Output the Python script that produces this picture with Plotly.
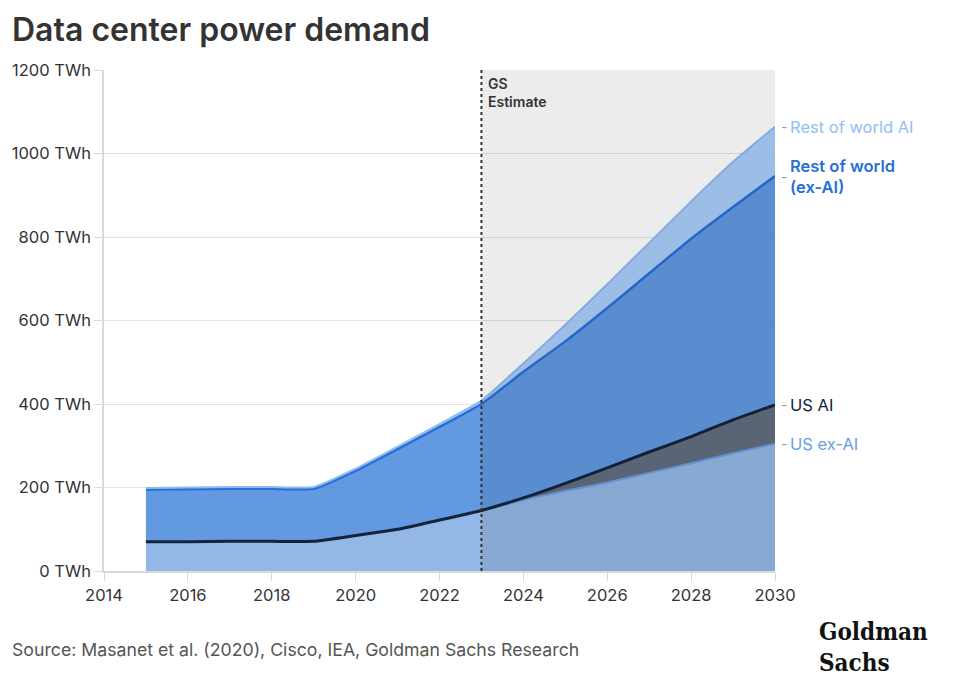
import plotly.graph_objects as go

years = list(range(2015, 2031))
us_ex_ai = [70, 70, 71, 71, 71, 85, 100, 122, 145, 170, 192, 212, 235, 258, 282, 305]
us_ai = [0, 0, 0, 0, 0, 0, 0, 0, 0, 5, 18, 35, 50, 64, 80, 93]
row_ex_ai = [125, 126, 126, 126, 126, 155, 192, 223, 255, 302, 340, 383, 428, 474, 510, 548]
row_ai = [4, 4, 4, 4, 4, 5, 6, 7, 8, 20, 40, 57, 73, 89, 108, 118]

x_ticks = list(range(2014, 2031, 2))
y_ticks = [0, 200, 400, 600, 800, 1000, 1200]
y_tick_labels = [f"{v} TWh" for v in y_ticks]

series = [
    ("US ex-AI", us_ex_ai, "rgba(128,170,226,0.85)", "#6a9ee2", 2),
    ("US AI", us_ai, "rgba(69,85,103,0.85)", "#14243c", 3),
    ("Rest of world (ex-AI)", row_ex_ai, "rgba(71,135,220,0.85)", "#2a6fd8", 2.5),
    ("Rest of world AI", row_ai, "rgba(154,197,248,0.85)", "#8cbcf0", 2),
]

FONT = "Inter, Lato, sans-serif"
OFF = 8  # page body margin offset
W, H = 960 - OFF, 688 - OFF
ml, mt = 104 - OFF, 70 - OFF
pw, ph = 671, 501
mr, mb = W - ml - pw, H - mt - ph

fig = go.Figure()
for name, vals, fillc, linec, lw in series:
    fig.add_trace(go.Scatter(
        x=years, y=vals, name=name, mode="lines", stackgroup="one",
        fillcolor=fillc, line=dict(color=linec, width=lw, shape="spline", smoothing=0.4),
        hoverinfo="skip",
    ))

tot_us_ex = us_ex_ai[-1]
tot_us = tot_us_ex + us_ai[-1]
tot_row_ex = tot_us + row_ex_ai[-1]
tot_all = tot_row_ex + row_ai[-1]

labels = [
    ("Rest of world AI", tot_all, "#8fc1f1", 400),
    ("Rest of world<br>(ex-AI)", tot_row_ex, "#2a6fd8", 600),
    ("US AI", tot_us, "#14243c", 400),
    ("US ex-AI", tot_us_ex, "#6a9ee2", 400),
]
annotations = []
for text, yv, col, wt in labels:
    annotations.append(dict(x=2030, y=yv, xref="x", yref="y", text="-", showarrow=False,
                            xanchor="left", yanchor="middle", xshift=4,
                            font=dict(family=FONT, size=14, color="#999999")))
    annotations.append(dict(x=2030, y=yv, xref="x", yref="y", text=text, showarrow=False,
                            xanchor="left", yanchor="middle", xshift=13, align="left",
                            font=dict(family=FONT, size=16.5, color=col, weight=wt)))

annotations.append(dict(x=2023, y=1200, xref="x", yref="y", text="GS<br>Estimate",
                        showarrow=False, xanchor="left", yanchor="top", xshift=5, yshift=-3,
                        align="left", font=dict(family=FONT, size=14, color="#333333", weight=600)))

def px(xp, yp):
    return (xp - OFF - ml) / pw, 1 - (yp - OFF - mt) / ph

pix_annots = [
    (10, OFF, "Data center power demand", dict(family=FONT, size=32, color="#333333", weight=600), "top"),
    (10, 649, "Source: Masanet et al. (2020), Cisco, IEA, Goldman Sachs Research",
     dict(family=FONT, size=17.7, color="#555555"), "middle"),
    (817, 647, "Goldman<br>Sachs",
     dict(family="DejaVu Serif Condensed, DejaVu Serif, serif", size=24, color="#111111", weight=700), "middle"),
]
for xp, yp, text, font, ya in pix_annots:
    ax, ay = px(xp, yp)
    annotations.append(dict(x=ax, y=ay, xref="paper", yref="paper", text=text, showarrow=False,
                            xanchor="left", yanchor=ya, align="left", font=font))

fig.update_layout(
    width=W, height=H, margin=dict(l=ml, r=mr, t=mt, b=mb, autoexpand=False),
    paper_bgcolor="white", plot_bgcolor="white", showlegend=False,
    font=dict(family=FONT, size=14, color="#333333"),
    xaxis=dict(range=[2014, 2030], tickvals=x_ticks, ticks="outside", ticklen=8,
               tickcolor="#d9d9d9", showgrid=False, showline=True, linecolor="#d9d9d9",
               linewidth=1.5, zeroline=False, automargin=False,
               tickfont=dict(size=16.5, color="#333333")),
    yaxis=dict(range=[0, 1200], tickvals=y_ticks, ticktext=y_tick_labels, ticks="outside",
               ticklen=8, tickcolor="#d9d9d9", showgrid=True, gridcolor="#e3e3e3",
               gridwidth=1.2, showline=True, linecolor="#d9d9d9", linewidth=1.5,
               zeroline=False, automargin=False, tickfont=dict(size=16.5, color="#333333")),
    annotations=annotations,
    shapes=[
        dict(type="rect", xref="x", yref="y", x0=2023, x1=2030, y0=0, y1=1200,
             fillcolor="rgba(0,0,0,0.075)", line=dict(width=0), layer="above"),
        dict(type="line", xref="x", yref="y", x0=2023, x1=2023, y0=0, y1=1200,
             line=dict(color="#333333", width=2, dash="dot"), layer="above"),
    ],
)
fig.write_html("out.html")
